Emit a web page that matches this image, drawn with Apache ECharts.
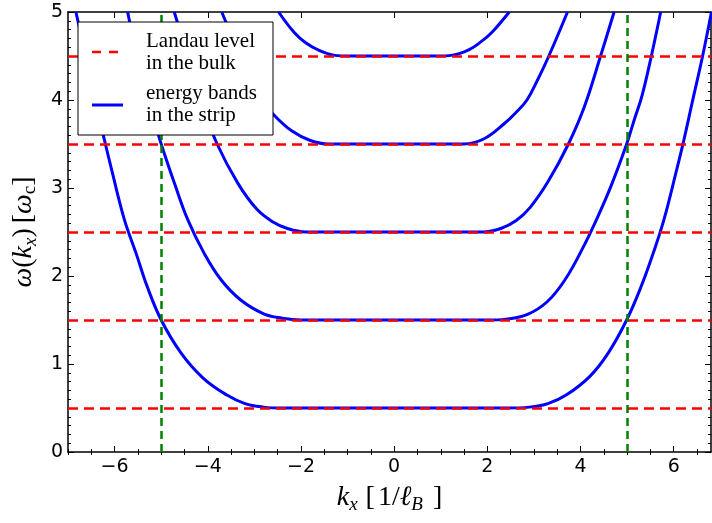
<!DOCTYPE html>
<html>
<head>
<meta charset="utf-8">
<script src="https://cdn.jsdelivr.net/npm/echarts@6/dist/echarts.min.js"></script>
<style>
  html, body { margin: 0; padding: 0; background: #fff; }
  #main { width: 712px; height: 523px; }
</style>
</head>
<body>
<div id="main"></div>
<script>
// Landau levels in the bulk (red dashed) and strip edges (green dashed)
const landauLevels = [0.5, 1.5, 2.5, 3.5, 4.5];
const stripEdges = [-5, 5];

// energy bands in the strip, [k_x, omega]
const band0 = [
  [-6.83, 5.0], [-6.62, 4.5], [-6.4, 3.95], [-6.22, 3.55], [-6.06, 3.2], [-5.79, 2.64],
  [-5.54, 2.26], [-5.3, 1.88], [-5.0, 1.5], [-4.58, 1.13], [-4.1, 0.84], [-3.6, 0.65],
  [-3.2, 0.55], [-2.8, 0.51], [-2.4, 0.5], [-1.8, 0.5], [0, 0.5], [1.8, 0.5], [2.4, 0.5],
  [2.9, 0.51], [3.3, 0.55], [3.7, 0.65], [4.2, 0.86], [4.6, 1.13], [4.99, 1.5],
  [5.3, 1.88], [5.56, 2.26], [5.79, 2.64], [6.06, 3.2], [6.22, 3.55], [6.4, 3.98],
  [6.62, 4.5], [6.81, 5.0]
];
const band1 = [
  [-5.72, 5.0], [-5.52, 4.5], [-5.3, 4.02], [-5.15, 3.77], [-5.0, 3.5], [-4.7, 3.03],
  [-4.43, 2.64], [-4.08, 2.26], [-3.72, 1.96], [-3.3, 1.73], [-2.8, 1.57], [-2.4, 1.52],
  [-2.0, 1.5], [0, 1.5], [2.0, 1.5], [2.4, 1.51], [2.85, 1.56], [3.29, 1.71], [3.67, 1.96],
  [4.05, 2.32], [4.35, 2.65], [4.66, 3.03], [4.99, 3.5], [5.15, 3.77], [5.32, 4.05],
  [5.52, 4.5], [5.72, 5.0]
];
const band2 = [
  [-4.72, 5.0], [-4.43, 4.5], [-4.1, 3.93], [-3.8, 3.5], [-3.35, 3.05], [-2.95, 2.76],
  [-2.62, 2.62], [-2.29, 2.54], [-1.9, 2.5], [-1.4, 2.5], [0, 2.5], [1.4, 2.5], [1.9, 2.5],
  [2.29, 2.54], [2.62, 2.63], [2.92, 2.78], [3.3, 3.07], [3.74, 3.5], [4.08, 3.92],
  [4.43, 4.5], [4.72, 5.0]
];
const band3 = [
  [-3.7, 5.0], [-3.31, 4.5], [-3.08, 4.22], [-2.83, 4.0], [-2.58, 3.83], [-2.2, 3.65],
  [-1.8, 3.54], [-1.4, 3.5], [-1.0, 3.5], [0, 3.5], [1.0, 3.5], [1.5, 3.5], [1.93, 3.56],
  [2.36, 3.73], [2.6, 3.85], [2.85, 4.0], [3.08, 4.23], [3.32, 4.5], [3.72, 5.0]
];
const band4 = [
  [-2.48, 5.0], [-2.15, 4.77], [-1.9, 4.65], [-1.6, 4.56], [-1.3, 4.51], [-0.9, 4.5],
  [0, 4.5], [0.9, 4.5], [1.25, 4.51], [1.6, 4.57], [1.86, 4.66], [2.1, 4.77], [2.47, 5.0]
];
const bands = [band0, band1, band2, band3, band4];

// ticks
const xMajorTicks = [-6, -4, -2, 0, 2, 4, 6];
const xMinorTicks = [-7, -6.5, -5.5, -5, -4.5, -3.5, -3, -2.5, -1.5, -1, -0.5,
  0.5, 1, 1.5, 2.5, 3, 3.5, 4.5, 5, 5.5, 6.5];

const serif = 'Liberation Serif';
const tickFont = { fontFamily: 'DejaVu Sans', fontSize: 19, color: '#000' };
const frameLine = { show: true, onZero: false, lineStyle: { color: '#000', width: 1.5 } };

const xBase = { type: 'value', min: -7, max: 6.8, splitLine: { show: false } };
const majorX = (pos, labels) => Object.assign({}, xBase, {
  position: pos,
  axisLine: frameLine,
  axisTick: { show: true, inside: true, length: 6, customValues: xMajorTicks, lineStyle: { color: '#000', width: 1 } },
  axisLabel: labels ? Object.assign({
    show: true, margin: 6, customValues: xMajorTicks,
    formatter: v => String(v).replace('-', '\u2212')
  }, tickFont) : { show: false }
});
const minorX = (pos) => Object.assign({}, xBase, {
  position: pos,
  axisLine: { show: false },
  axisTick: { show: true, inside: true, length: 3, customValues: xMinorTicks, lineStyle: { color: '#000', width: 1 } },
  axisLabel: { show: false }
});

// math-like axis titles
const txt = (extra) => Object.assign({ fontFamily: serif, fontSize: 28, lineHeight: 32, color: '#000' }, extra);
const sub = (extra) => Object.assign({ fontFamily: serif, fontSize: 19, lineHeight: 16, verticalAlign: 'bottom', color: '#000' }, extra);

const xAxis = [majorX('bottom', true), minorX('bottom'), majorX('top', false), minorX('top')];
xAxis[0].name = '{i|k}{s|x}{b|[}{n|1/}{i|\u2113}{t|B}{n|]}';
xAxis[0].nameLocation = 'middle';
xAxis[0].nameGap = 30;
xAxis[0].nameTextStyle = {
  rich: {
    i: txt({ fontStyle: 'italic' }),
    n: txt(),
    b: txt({ padding: [0, 3, 0, 0] }),
    s: sub({ fontStyle: 'italic', padding: [0, 8, 0, 0] }),
    t: sub({ fontStyle: 'italic', padding: [0, 10, 0, 0] })
  }
};

const yBase = (pos, labels) => ({
  type: 'value', min: 0, max: 5, interval: 1, position: pos,
  splitLine: { show: false },
  axisLine: frameLine,
  axisTick: { show: true, inside: true, length: 6, lineStyle: { color: '#000', width: 1 } },
  minorTick: { show: true, splitNumber: 10, length: 3, lineStyle: { color: '#000', width: 1 } },
  axisLabel: labels ? Object.assign({ show: true, margin: 5 }, tickFont) : { show: false }
});
const yAxis = [yBase('left', true), yBase('right', false)];
yAxis[0].name = '{i|\u03c9}{n|(}{i|k}{s|x}{p|)}{n|[}{i|\u03c9}{c|c}{n|]}';
yAxis[0].nameLocation = 'middle';
yAxis[0].nameGap = 24;
yAxis[0].nameRotate = 90;
yAxis[0].nameTextStyle = {
  rich: {
    i: txt({ fontStyle: 'italic' }),
    n: txt(),
    p: txt({ padding: [0, 5, 0, 0] }),
    s: sub({ fontStyle: 'italic' }),
    c: sub()
  }
};

const series = [
  {
    name: 'Landau level in the bulk',
    type: 'line',
    data: [],
    markLine: {
      silent: true, symbol: 'none', label: { show: false },
      lineStyle: { color: '#ff0000', width: 2.5, type: [10, 6] },
      data: landauLevels.map(v => ({ yAxis: v }))
    }
  },
  {
    name: 'strip edges',
    type: 'line',
    data: [],
    markLine: {
      silent: true, symbol: 'none', label: { show: false },
      lineStyle: { color: '#008000', width: 2.5, type: [8, 5] },
      data: stripEdges.map(v => ({ xAxis: v }))
    }
  }
].concat(bands.map((b, n) => ({
  name: 'band ' + n,
  type: 'line',
  data: b,
  symbol: 'none',
  smooth: 0.4,
  clip: true,
  lineStyle: { color: '#0000ff', width: 3 }
})));

// legend box drawn by hand (two-line labels like the original)
const legendText = (t, y) => ({
  type: 'text', x: 146, y: y, z: 100,
  style: { text: t, font: '21px "Liberation Serif"', fill: '#000', verticalAlign: 'middle' }
});
const graphic = [
  { type: 'rect', z: 100, shape: { x: 78, y: 22, width: 195, height: 113 },
    style: { fill: '#fff', stroke: '#000', lineWidth: 1 } },
  { type: 'line', z: 101, shape: { x1: 92, y1: 52, x2: 121, y2: 52 },
    style: { stroke: '#ff0000', lineWidth: 2.5, lineDash: [9, 8] } },
  { type: 'line', z: 101, shape: { x1: 92, y1: 105, x2: 123, y2: 105 },
    style: { stroke: '#0000ff', lineWidth: 3 } },
  legendText('Landau level', 41),
  legendText('in the bulk', 63),
  legendText('energy bands', 93),
  legendText('in the strip', 115)
];

const myChart = echarts.init(document.getElementById('main'));
myChart.setOption({
  animation: false,
  grid: { left: 68, right: 1, top: 12, bottom: 71 },
  xAxis: xAxis,
  yAxis: yAxis,
  series: series,
  graphic: graphic
});
</script>
</body>
</html>
